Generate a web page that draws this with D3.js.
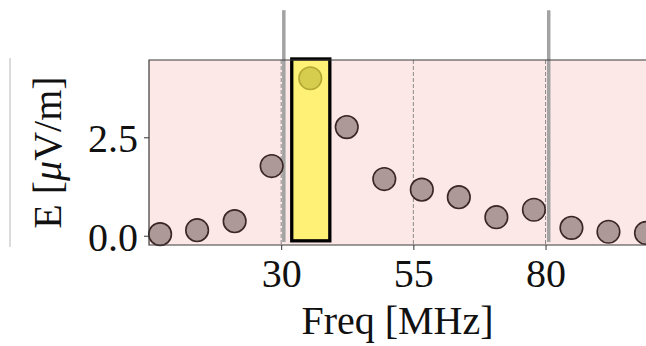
<!DOCTYPE html>
<html>
<head>
<meta charset="utf-8">
<script src="https://cdn.jsdelivr.net/npm/d3@7"></script>
<style>
	body { margin: 0; background: #fff; }
	svg { display: block; }
	text { font-family: 'Liberation Serif', 'DejaVu Serif', serif; fill: #111; }
</style>
</head>
<body>
<div id="chart"></div>
<script>
'use strict';

// E field per frequency sample
let freqs = [7.1, 14.1, 21.2, 28.2, 35.5, 42.4, 49.5, 56.6, 63.6, 70.7, 77.8, 84.9, 91.9, 99.0];
let efield = [0.04, 0.14, 0.37, 1.77, 4.0, 2.76, 1.44, 1.17, 0.98, 0.47, 0.66, 0.2, 0.1, 0.07];
let highlight = 4;
let hiBox = {x0: 32.0, x1: 39.2, y0: -0.13, y1: 4.49};
let bandEdges = [30.5, 80.6];
let bandSpan = [-0.16, 5.73];
let xTicks = [30, 55, 80];
let yTicks = [0, 2.5];
let xDomain = [5, 99];
let yDomain = [-0.236, 4.464];

let W = 646, H = 346;
let m = {l: 149, r: 0, t: 60, b: 101};

let svg = d3.select('#chart').append('svg')
	.attr('width', W)
	.attr('height', H)
	;

let x = d3.scaleLinear().domain(xDomain).range([m.l, W - m.r]);
let y = d3.scaleLinear().domain(yDomain).range([H - m.b, m.t]);

// stray edge from neighbouring panel
svg.append('line')
	.attr('x1', 10).attr('x2', 10).attr('y1', 58).attr('y2', 247)
	.attr('stroke', '#dcdcdc').attr('stroke-width', 2)
	;

svg.append('rect')
	.attr('x', m.l).attr('y', m.t)
	.attr('width', W - m.r - m.l).attr('height', H - m.b - m.t)
	.attr('fill', '#fde8e8')
	;

// dashed grid at x ticks
svg.append('g').selectAll('line').data(xTicks).join('line')
	.attr('x1', d => x(d)).attr('x2', d => x(d))
	.attr('y1', m.t).attr('y2', H - m.b)
	.attr('stroke', '#8c8c8c').attr('stroke-width', 1).attr('stroke-dasharray', '4,2')
	;

// band edges
svg.append('g').selectAll('line').data(bandEdges).join('line')
	.attr('x1', d => x(d)).attr('x2', d => x(d))
	.attr('y1', y(bandSpan[0])).attr('y2', y(bandSpan[1]))
	.attr('stroke', '#a3a3a3').attr('stroke-width', 3.5)
	;

svg.append('rect')
	.attr('x', x(hiBox.x0)).attr('y', y(hiBox.y1))
	.attr('width', x(hiBox.x1) - x(hiBox.x0))
	.attr('height', y(hiBox.y0) - y(hiBox.y1))
	.attr('fill', '#fff176')
	.attr('stroke', '#000').attr('stroke-width', 3.3)
	;

let pts = d3.range(freqs.length);
svg.append('g').selectAll('circle').data(pts).join('circle')
	.attr('cx', i => x(freqs[i]))
	.attr('cy', i => y(efield[i]))
	.attr('r', 11.3)
	.attr('fill', i => i === highlight ? '#d6cc4e' : '#ae9999')
	.attr('stroke', i => i === highlight ? '#b3a934' : '#3b2626')
	.attr('stroke-width', 1.6)
	;

// spines (right one falls outside the picture)
let x0 = m.l, x1 = W - m.r, y0 = m.t, y1 = H - m.b;
svg.append('path')
	.attr('d', 'M' + x1 + ',' + y0 + 'H' + x0 + 'V' + y1 + 'H' + x1)
	.attr('fill', 'none').attr('stroke', '#3a3a3a').attr('stroke-width', 1.2)
	;

let xa = svg.append('g')
	.attr('transform', 'translate(0,' + (H - m.b) + ')')
	.call(d3.axisBottom(x).tickValues(xTicks).tickSize(5).tickPadding(5).tickFormat(d3.format('d')))
	;
let ya = svg.append('g')
	.attr('transform', 'translate(' + m.l + ',0)')
	.call(d3.axisLeft(y).tickValues(yTicks).tickSize(5).tickPadding(6).tickFormat(d3.format('.1f')))
	;
[xa, ya].forEach(function(a) {
	a.select('.domain').remove();
	a.selectAll('line').attr('stroke', '#333');
	a.selectAll('text').attr('font-size', 40).attr('font-family', null).attr('fill', '#111');
});
xa.selectAll('text').attr('dy', null).attr('y', 42);
ya.selectAll('text').attr('dy', '0.36em');

svg.append('text')
	.attr('x', (m.l + W - m.r)/2).attr('y', 334)
	.attr('text-anchor', 'middle').attr('font-size', 40)
	.text('Freq [MHz]')
	;

let yl = svg.append('text')
	.attr('transform', 'translate(61,' + ((m.t + H - m.b)/2) + ') rotate(-90)')
	.attr('text-anchor', 'middle').attr('font-size', 40)
	;
yl.append('tspan').text('E [');
yl.append('tspan').attr('font-style', 'italic').text('μ');
yl.append('tspan').text('V/m]');
</script>
</body>
</html>
